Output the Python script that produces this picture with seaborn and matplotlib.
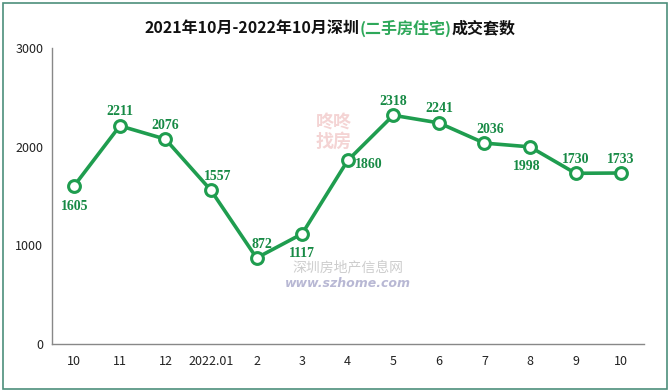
import matplotlib
matplotlib.use("Agg")
import matplotlib.pyplot as plt
import seaborn as sns
import pandas as pd
from matplotlib.patches import Rectangle

months = ["10", "11", "12", "2022.01", "2", "3", "4", "5", "6", "7", "8", "9", "10"]
deals = [1605, 2211, 2076, 1557, 872, 1117, 1860, 2318, 2241, 2036, 1998, 1730, 1733]
# label placement (dx, dy in points)
label_offsets = [(0, -15), (0, 10), (0, 10), (5, 10), (4, 10), (0, -14), (15, -3),
                 (0, 10), (0, 10), (4, 10), (-2, -14), (0, 10), (0, 10)]

sns.set_theme(style="white")
plt.rcParams['font.family'] = ['Noto Sans CJK SC', 'DejaVu Sans']

GREEN = "#1f9d4f"
LABEL_GREEN = "#178a45"

df = pd.DataFrame({"idx": range(len(months)), "deals": deals})

fig = plt.figure(figsize=(6.7, 3.92), dpi=100)
ax = fig.add_axes([0.0769, 0.1224, 0.961 - 0.0769, 0.8776 - 0.1224])

sns.lineplot(data=df, x="idx", y="deals", ax=ax, color=GREEN, linewidth=2.6,
             marker="o", markersize=8.5, markerfacecolor="white",
             markeredgecolor=GREEN, markeredgewidth=2.2)

for i, v in enumerate(deals):
    dx, dy = label_offsets[i]
    ax.annotate(str(v), (i, v), xytext=(dx, dy), textcoords="offset points",
                ha="center", va="center", color=LABEL_GREEN, fontsize=10,
                fontweight="bold", family=["Liberation Serif", "DejaVu Serif"])

ax.set_xlim(-0.5, len(months) - 0.5)
ax.set_ylim(0, 3000)
ax.set_yticks([0, 1000, 2000, 3000])
ax.set_yticklabels(["0", "1000", "2000", "3000"], fontsize=9, color="#222222")
ax.set_xticks(range(len(months)))
ax.set_xticklabels(months, fontsize=9, color="#222222")
ax.set_xticks([i - 0.5 for i in range(len(months) + 1)], minor=True)
ax.tick_params(axis="x", which="major", length=0, pad=8)
ax.tick_params(axis="x", which="minor", length=4, color="#888888", direction="out")
ax.tick_params(axis="y", length=4, color="#888888", direction="out", pad=2)
ax.set_xlabel("")
ax.set_ylabel("")
for s in ["top", "right"]:
    ax.spines[s].set_visible(False)
for s in ["left", "bottom"]:
    ax.spines[s].set_color("#888888")
    ax.spines[s].set_linewidth(1.0)

# watermark-ish texts
fig.text(0.498, 0.665, "咚咚\n找房", fontsize=13, color="#e8a0a0", alpha=0.45,
         ha="center", va="center", fontweight="bold", linespacing=1.0)
fig.text(0.52, 0.318, "深圳房地产信息网", fontsize=10, color="#b8b8b8", alpha=0.7,
         ha="center", va="center", style="italic")
fig.text(0.52, 0.278, "www.szhome.com", fontsize=9, color="#8a8ab8", alpha=0.6,
         ha="center", va="center", style="italic", fontweight="bold",
         family=["DejaVu Sans"])

# multi-colour title
parts = [("2021年10月-2022年10月深圳", "#111111"), ("(二手房住宅)", "#2ea85a"), ("成交套数", "#111111")]
fig.canvas.draw()
renderer = fig.canvas.get_renderer()
texts = []
for s, c in parts:
    t = fig.text(0, 0.928, s, color=c, fontsize=11.5, fontweight="bold", va="center", ha="left")
    texts.append(t)
widths = [t.get_window_extent(renderer).width for t in texts]
total = sum(widths)
x0 = (0.493 * 670 - total / 2)
for t, w in zip(texts, widths):
    t.set_x(x0 / 670)
    x0 += w

# frame
fig.patches.append(Rectangle((0.004, 0.008), 0.992, 0.985, transform=fig.transFigure,
                             fill=False, edgecolor="#4d8f7c", linewidth=1.2))

fig.savefig("out.png", dpi=100)
